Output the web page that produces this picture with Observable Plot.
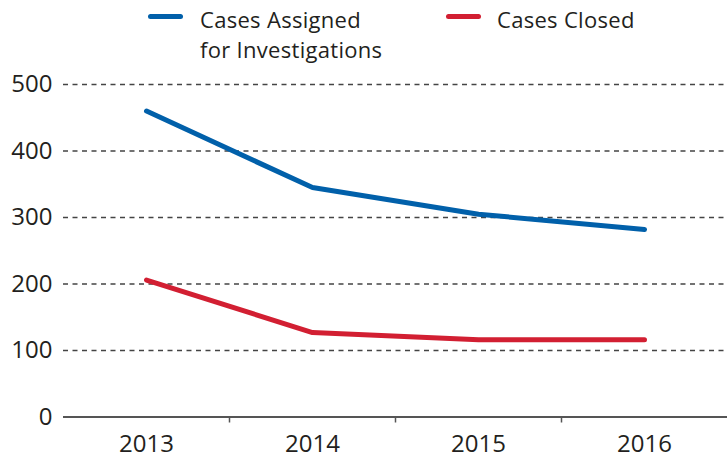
<!DOCTYPE html>
<html>
<head>
<meta charset="utf-8">
<script src="https://cdn.jsdelivr.net/npm/d3@7"></script>
<script src="https://cdn.jsdelivr.net/npm/@observablehq/plot@0.6"></script>
<style>
  html, body { margin: 0; padding: 0; background: #fff; }
  body { width: 727px; height: 458px; overflow: hidden; font-family: "Open Sans", sans-serif; color: #231f20; }
  #legend { position: relative; height: 66px; }
  .item { position: absolute; top: 4px; font-size: 22px; line-height: 30px; letter-spacing: 0.3px; }
  .sw { position: absolute; height: 5px; border-radius: 3px; top: 14px; }
  svg { display: block; }
</style>
</head>
<body>
<div id="legend"></div>
<div id="chart"></div>
<script>
const years = [2013, 2014, 2015, 2016];
const assigned = [460, 345, 305, 282];
const closed = [206, 127, 116, 116];
const seriesNames = ["Cases Assigned\nfor Investigations", "Cases Closed"];
const seriesColors = ["#0160aa", "#d21f32"];
const yTicks = [0, 100, 200, 300, 400, 500];

const data = [
  ...years.map((y, i) => ({year: y, value: assigned[i], series: seriesNames[0]})),
  ...years.map((y, i) => ({year: y, value: closed[i], series: seriesNames[1]}))
];
const boundaries = years.slice(1).map(y => y - 0.5);

// legend
const legend = document.getElementById("legend");
const legendPos = [{sw: 148, tx: 200}, {sw: 446, tx: 497}];
seriesNames.forEach((name, i) => {
  const sw = document.createElement("div");
  sw.className = "sw";
  sw.style.left = legendPos[i].sw + "px";
  sw.style.width = "35px";
  sw.style.background = seriesColors[i];
  legend.appendChild(sw);
  const t = document.createElement("div");
  t.className = "item";
  t.style.left = legendPos[i].tx + "px";
  t.innerHTML = name.split("\n").join("<br>");
  legend.appendChild(t);
});

const chart = Plot.plot({
  width: 727,
  height: 392,
  marginLeft: 63,
  marginRight: 0,
  marginTop: 18,
  marginBottom: 41.5,
  style: {fontFamily: "Open Sans, sans-serif", fontSize: "24px", color: "#231f20", background: "#fff"},
  x: {domain: [years[0] - 0.5, years[years.length - 1] + 0.5]},
  y: {domain: [0, 500]},
  color: {domain: seriesNames, range: seriesColors},
  marks: [
    Plot.ruleY(yTicks.filter(d => d > 0), {stroke: "#444", strokeWidth: 1.3, strokeDasharray: "5,4.5"}),
    Plot.axisY({ticks: yTicks, tickSize: 0, tickPadding: 11, label: null, fontSize: 24, fill: "#231f20"}),
    Plot.axisX({ticks: boundaries, tickSize: 6, tickFormat: () => "", label: null, stroke: "#555", strokeWidth: 1.5}),
    Plot.axisX({ticks: years, tickSize: 0, tickPadding: 18, tickFormat: d => String(d), label: null, fontSize: 24, fill: "#231f20"}),
    Plot.ruleY([0], {stroke: "#555", strokeWidth: 2}),
    Plot.line(data, {x: "year", y: "value", z: "series", stroke: "series", strokeWidth: 5, strokeLinecap: "round", strokeLinejoin: "round"})
  ]
});
document.getElementById("chart").appendChild(chart);
</script>
</body>
</html>
